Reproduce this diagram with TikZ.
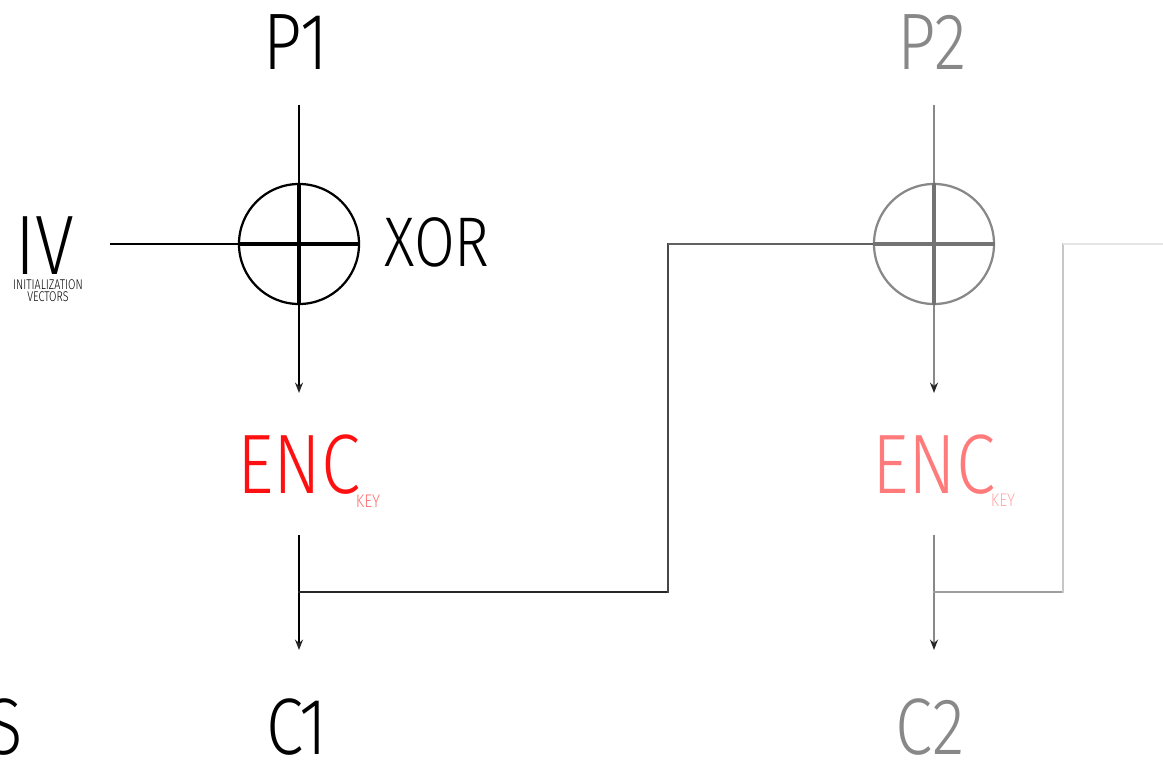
\documentclass[tikz,border=0pt]{standalone}
\usepackage{fontspec}
\setmainfont{Fira Sans Light}[FakeStretch=0.84]
\newfontfamily\notefont{Fira Sans Light}[FakeStretch=0.76]
\usetikzlibrary{positioning, arrows.meta, calc}
\definecolor{encred}{HTML}{FF1010}
\definecolor{keyred}{HTML}{FF7070}
\definecolor{encpink}{HTML}{FF7B7B}
\definecolor{keypink}{HTML}{FFA8A8}
\definecolor{ghost}{HTML}{888888}

\begin{document}
\begin{tikzpicture}[x=0.025cm, y=-0.025cm,
    lbl/.style={inner sep=0pt, anchor=base},
    big/.style={font=\fontsize{57}{60}\selectfont},
    xorbox/.style={circle, draw, line width=1.6pt, minimum size=3cm, inner sep=0pt},
    wire/.style={line width=1.4pt},
    cross/.style={line width=3.4pt},
    tip/.style={-{Stealth[length=2.6mm, width=2mm, color=black!85]}}]
  \useasboundingbox (0,0) rectangle (1163,761);
  \clip (0,0) rectangle (1163,761);

  % first block
  \node[lbl, big] (p1) at (296,70) {P1};
  \node[lbl, font=\fontsize{60}{64}\selectfont] (iv) at (45,274) {IV};
  \node[inner sep=0pt, anchor=north, align=center, font=\notefont\fontsize{10}{9}\selectfont] (ivnote) at (48,279) {INITIALIZATION\\VECTORS};
  \node[xorbox] (xor1) at (299,244) {};
  \node[lbl, font=\fontsize{50}{54}\selectfont] (xor) at (437,267) {XOR};
  \node[lbl, font=\fontsize{60}{64}\selectfont, text=encred] (enc1) at (299,493) {ENC};
  \node[lbl, font=\fontsize{13}{14}\selectfont, text=keyred] (key1) at (368,507) {KEY};
  \node[lbl, big] (c1) at (297,754) {C1};
  \node[lbl, big] (s) at (5,754) {S};

  % second block
  \node[lbl, big, text=ghost] (p2) at (932,70) {P2};
  \node[xorbox, draw=ghost] (xor2) at (934,244) {};
  \node[lbl, font=\fontsize{60}{64}\selectfont, text=encpink] (enc2) at (934,493) {ENC};
  \node[lbl, font=\fontsize{13}{14}\selectfont, text=keypink] (key2) at (1003,506) {KEY};
  \node[lbl, big, text=ghost] (c2) at (930,754) {C2};

  \coordinate (p1out) at (299,105);
  \coordinate (enc1in) at (299,393);
  \coordinate (enc1out) at (299,535);
  \coordinate (c1in) at (299,650);
  \coordinate (ivout) at (110,244);
  \coordinate (br1) at (299,592);
  \coordinate (up1) at (668,592);
  \coordinate (top1) at (668,244);
  \coordinate (p2out) at (934,105);
  \coordinate (enc2in) at (934,393);
  \coordinate (enc2out) at (934,535);
  \coordinate (c2in) at (934,650);
  \coordinate (br2) at (934,592);
  \coordinate (up2) at (1063,592);
  \coordinate (top2) at (1063,244);
  \coordinate (exit2) at (1163,244);

  \draw[wire] (p1out) -- (xor1);
  \draw[wire] (ivout) -- (xor1);
  \draw[wire, tip] (xor1) -- (enc1in);
  \draw[cross] (xor1.north) -- (xor1.south) (xor1.west) -- (xor1.east);
  \draw[wire, tip] (enc1out) -- (c1in);

  % chaining into the next block
  \draw[wire, black!85, line cap=rect] (br1) -- (up1);
  \draw[wire, black!72, line cap=rect] (up1) -- (top1);
  \draw[wire, black!62] (top1) -- (xor2);

  \draw[wire, ghost] (p2out) -- (xor2);
  \draw[wire, ghost, tip] (xor2) -- (enc2in);
  \draw[cross, black!55] (xor2.north) -- (xor2.south) (xor2.west) -- (xor2.east);
  \draw[wire, ghost, tip] (enc2out) -- (c2in);

  \draw[wire, black!38, line cap=rect] (br2) -- (up2);
  \draw[wire, black!22, line cap=rect] (up2) -- (top2);
  \draw[wire, black!10] (top2) -- (exit2);
\end{tikzpicture}
\end{document}
